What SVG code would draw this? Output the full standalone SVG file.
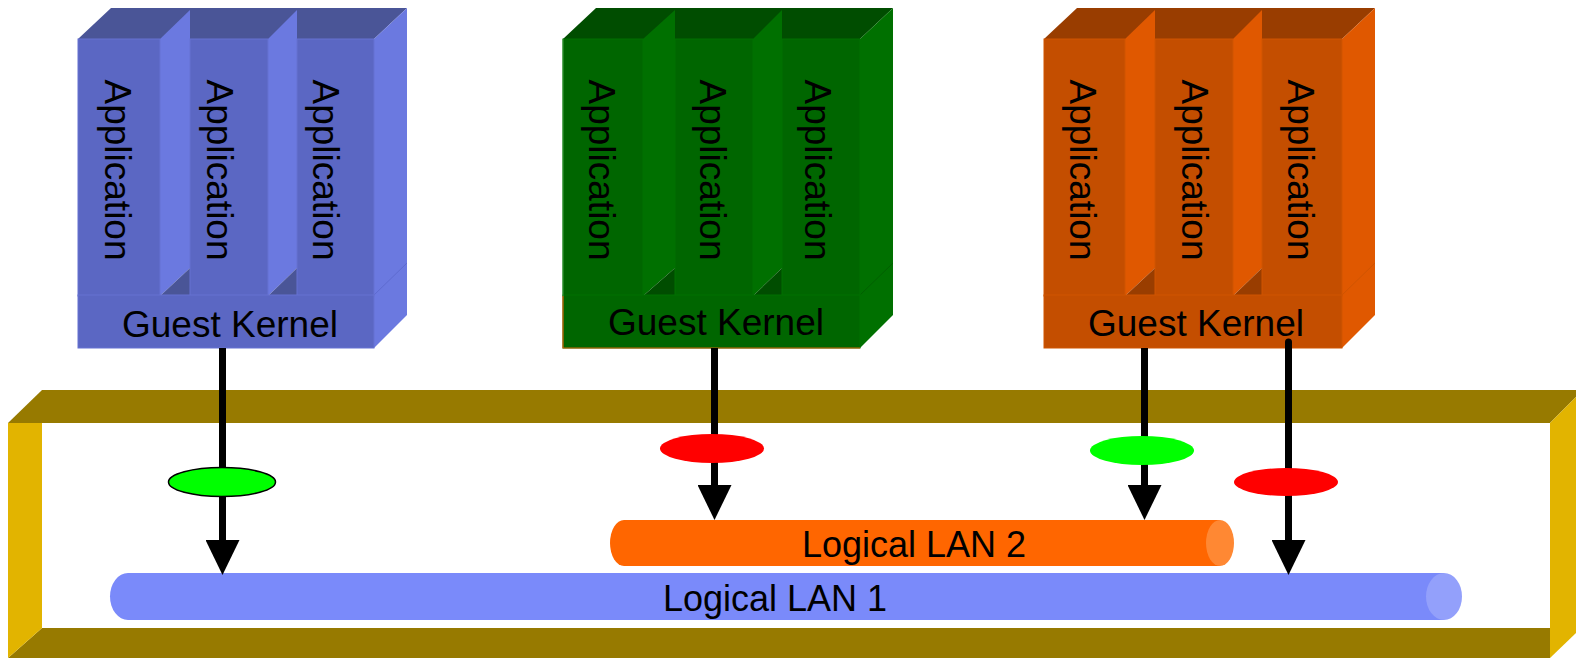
<svg xmlns="http://www.w3.org/2000/svg" width="1576" height="658" viewBox="0 0 1576 658">
  <style>
    .lbl { font-family: "Liberation Sans", Arial, sans-serif; fill: #000; }
    .app { font-size: 37px; text-anchor: middle; }
    .kern { font-size: 37px; text-anchor: middle; }
    .lan { font-size: 36px; text-anchor: middle; }
    .wire { stroke: #000; stroke-width: 7; fill: none; }
    .olive { fill: #977a00; }
    .gold { fill: #e2b400; }
    /* blue guest */
    .b-top { fill: #4a5597; }
    .b-front { fill: #5b67c3; stroke: #6672d2; stroke-width: 1; }
    .b-side { fill: #6b79e0; }
    /* green guest */
    .g-top { fill: #004d00; }
    .g-front { fill: #006600; stroke: #007000; stroke-width: 1; }
    .g-side { fill: #007000; }
    /* orange guest */
    .o-top { fill: #993d00; }
    .o-front { fill: #c44e00; stroke: #d05400; stroke-width: 1; }
    .o-side { fill: #e05800; }
  </style>
  <defs>
    <marker id="head" markerUnits="userSpaceOnUse" markerWidth="35" markerHeight="34" refX="0" refY="17" orient="auto">
      <path d="M0,0 L35,17 L0,34 Z" fill="#000"/>
    </marker>
  </defs>

  <!-- hypervisor frame -->
  <g id="frame">
    <polygon class="olive" points="8,423 42,390 1576,390 1576,397 1550,423"/>
    <polygon class="olive" points="42,628 1550,628 1550,658 8,658"/>
    <polygon class="gold" points="8,423 42,423 42,628 8,658"/>
    <polygon class="gold" points="1550,423 1576,397 1576,633 1550,658"/>
  </g>

  <!-- logical LANs -->
  <g id="lan2">
    <path d="M624,520 L1220,520 L1220,566 L624,566 A14,23 0 0 1 624,520 Z" fill="#ff6600"/>
    <ellipse cx="1220" cy="543" rx="14" ry="23" fill="#ff8833"/>
    <text class="lbl lan" x="914" y="557">Logical LAN 2</text>
  </g>
  <g id="lan1">
    <path d="M128,573 L1444,573 L1444,620 L128,620 A18,23.5 0 0 1 128,573 Z" fill="#7a8afa"/>
    <ellipse cx="1444" cy="596.5" rx="18" ry="23.5" fill="#93a0fb"/>
    <text class="lbl lan" x="775" y="611">Logical LAN 1</text>
  </g>

  <!-- blue guest partition -->
  <g id="guest-blue">
    <polygon class="b-top" points="78,39 374,39 407,8 111,8"/>
    <polygon class="b-side" points="374,39 407,8 407,315 374,348"/>
    <line x1="374" y1="295" x2="407" y2="263" stroke="#5e6bd0" stroke-width="1"/>
    <polygon class="b-side" points="160,39 190,10 190,268 160,296"/>
    <polygon class="b-top" points="160,296 190,268 190,296"/>
    <polygon class="b-side" points="268,39 297,10 297,268 268,296"/>
    <polygon class="b-top" points="268,296 297,268 297,296"/>
    <rect class="b-front" x="78" y="39" width="82" height="257"/>
    <rect class="b-front" x="190" y="39" width="78" height="257"/>
    <rect class="b-front" x="297" y="39" width="77" height="257"/>
    <rect class="b-front" x="78" y="295" width="296" height="53"/>
    <text class="lbl app" transform="translate(105,170) rotate(90)">Application</text>
    <text class="lbl app" transform="translate(207,170) rotate(90)">Application</text>
    <text class="lbl app" transform="translate(313,170) rotate(90)">Application</text>
    <text class="lbl kern" x="230" y="337">Guest Kernel</text>
  </g>

  <!-- green guest partition -->
  <g id="guest-green">
    <polygon class="g-top" points="563,39 860,39 893,8 596,8"/>
    <polygon class="g-side" points="860,39 893,8 893,315 860,348"/>
    <line x1="860" y1="295" x2="893" y2="263" stroke="#006000" stroke-width="1"/>
    <polygon class="g-side" points="643,39 675,10 675,268 643,296"/>
    <polygon class="g-top" points="643,296 675,268 675,296"/>
    <polygon class="g-side" points="753,39 782,10 782,268 753,296"/>
    <polygon class="g-top" points="753,296 782,268 782,296"/>
    <rect class="g-front" x="563" y="39" width="80" height="257"/>
    <rect class="g-front" x="675" y="39" width="78" height="257"/>
    <rect class="g-front" x="782" y="39" width="78" height="257"/>
    <rect class="g-front" x="563" y="295" width="297" height="53"/>
    <line x1="563" y1="39" x2="563" y2="296" stroke="#3f9a3f" stroke-width="1"/>
    <polyline points="563,296 563,348 860,348" fill="none" stroke="#d0600a" stroke-width="1.2"/>
    <text class="lbl app" transform="translate(589,170) rotate(90)">Application</text>
    <text class="lbl app" transform="translate(700,170) rotate(90)">Application</text>
    <text class="lbl app" transform="translate(805,170) rotate(90)">Application</text>
    <text class="lbl kern" x="716" y="335">Guest Kernel</text>
  </g>

  <!-- orange guest partition -->
  <g id="guest-orange">
    <polygon class="o-top" points="1044,39 1342,39 1375,8 1077,8"/>
    <polygon class="o-side" points="1342,39 1375,8 1375,315 1342,348"/>
    <line x1="1342" y1="295" x2="1375" y2="263" stroke="#d05400" stroke-width="1"/>
    <polygon class="o-side" points="1125,39 1155,10 1155,268 1125,296"/>
    <polygon class="o-top" points="1125,296 1155,268 1155,296"/>
    <polygon class="o-side" points="1233,39 1262,10 1262,268 1233,296"/>
    <polygon class="o-top" points="1233,296 1262,268 1262,296"/>
    <rect class="o-front" x="1044" y="39" width="81" height="257"/>
    <rect class="o-front" x="1155" y="39" width="78" height="257"/>
    <rect class="o-front" x="1262" y="39" width="80" height="257"/>
    <rect class="o-front" x="1044" y="295" width="298" height="53"/>
    <text class="lbl app" transform="translate(1070,170) rotate(90)">Application</text>
    <text class="lbl app" transform="translate(1182,170) rotate(90)">Application</text>
    <text class="lbl app" transform="translate(1288,170) rotate(90)">Application</text>
    <text class="lbl kern" x="1196" y="336">Guest Kernel</text>
  </g>

  <!-- virtual adapter links -->
  <g id="connectors">
    <line class="wire" x1="222.5" y1="348" x2="222.5" y2="540" marker-end="url(#head)"/>
    <line class="wire" x1="714.5" y1="348" x2="714.5" y2="485" marker-end="url(#head)"/>
    <line class="wire" x1="1144.5" y1="348" x2="1144.5" y2="485" marker-end="url(#head)"/>
    <line class="wire" x1="1288.5" y1="342" x2="1288.5" y2="540" stroke-linecap="round" marker-end="url(#head)"/>
    <ellipse cx="222" cy="482" rx="53.5" ry="14.5" fill="#00ff00" stroke="#000" stroke-width="1.5"/>
    <ellipse cx="712" cy="448.5" rx="52" ry="14.5" fill="#ff0000"/>
    <ellipse cx="1142" cy="450.5" rx="52" ry="14.5" fill="#00ff00"/>
    <ellipse cx="1286" cy="482" rx="52" ry="14" fill="#ff0000"/>
  </g>
</svg>
